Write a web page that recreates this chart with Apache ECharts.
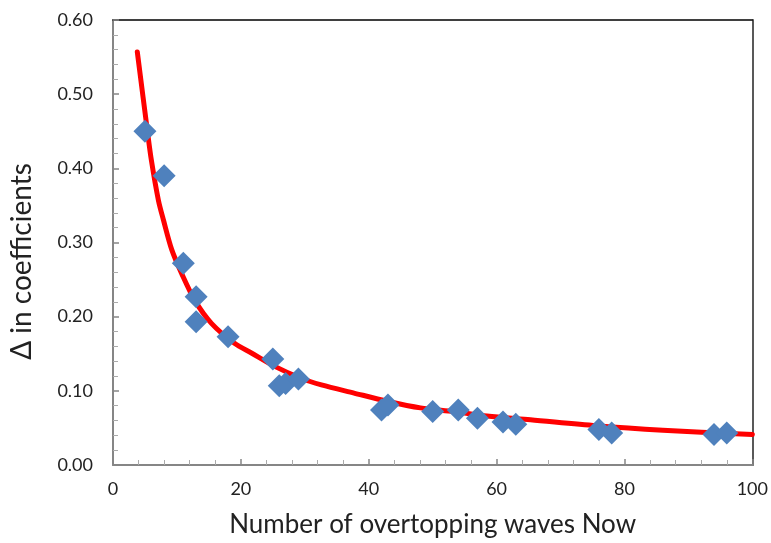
<!DOCTYPE html>
<html>
<head>
<meta charset="utf-8">
<script src="https://cdn.jsdelivr.net/npm/echarts@6/dist/echarts.min.js"></script>
<style>
  html, body { margin: 0; padding: 0; background: #fff; }
  #chart { width: 771px; height: 543px; }
</style>
</head>
<body>
<div id="chart"></div>
<script>
// Measured overtopping-wave counts and coefficient differences
const waveCounts = [5, 8, 11, 13, 13, 18, 25, 26, 27, 29, 42, 43, 50, 54, 57, 61, 63, 76, 78, 94, 96];
const coeffDelta = [0.450, 0.390, 0.272, 0.227, 0.193, 0.173, 0.143, 0.107, 0.110, 0.116,
                    0.074, 0.081, 0.072, 0.074, 0.063, 0.058, 0.055, 0.048, 0.043, 0.041, 0.043];

// Fitted trend line
const fitX = [3.8, 5.4, 6.0, 7.1, 7.9, 9.2, 10.75, 12.8, 15.4, 19.0, 21.65, 25.3, 29.4, 32.6, 37.7, 42.9, 48.1, 53.3, 58.5, 65.3, 75.6, 86.0, 100];
const fitY = [0.557, 0.449, 0.411, 0.357, 0.330, 0.290, 0.258, 0.222, 0.191, 0.164, 0.151, 0.133, 0.117, 0.108, 0.097, 0.086, 0.077, 0.072, 0.066, 0.061, 0.053, 0.047, 0.041];

const xTicks = [0, 20, 40, 60, 80, 100];
const yTicks = [0.0, 0.1, 0.2, 0.3, 0.4, 0.5, 0.6];

const points = waveCounts.map((x, i) => [x, coeffDelta[i]]);
const fitLine = fitX.map((x, i) => [x, fitY[i]]);

const FONT = 'Lato';
const axisGray = '#868686';

const chart = echarts.init(document.getElementById('chart'), null, { renderer: 'canvas' });
chart.setOption({
  animation: false,
  backgroundColor: '#ffffff',
  grid: { left: 111, right: 18, top: 20, bottom: 78, containLabel: false },
  xAxis: [
    {
      type: 'value',
      position: 'bottom',
      min: xTicks[0], max: xTicks[xTicks.length - 1], interval: 20,
      name: 'Number of overtopping waves Now',
      nameLocation: 'middle', nameGap: 47,
      nameTextStyle: { fontFamily: FONT, fontSize: 26, color: '#222' },
      axisLine: { show: true, lineStyle: { color: axisGray, width: 2 } },
      axisTick: { show: true, inside: true, length: 6, lineStyle: { color: axisGray, width: 1.5 } },
      minorTick: { show: true, splitNumber: 5, length: 5, lineStyle: { color: '#aaa', width: 1 } },
      axisLabel: { fontFamily: FONT, fontSize: 18, color: '#222', margin: 15 },
      splitLine: { show: false }
    },
    {
      type: 'value',
      position: 'top',
      min: xTicks[0], max: xTicks[xTicks.length - 1],
      axisLine: { show: true, onZero: false, lineStyle: { color: '#000', width: 1.5 } },
      axisTick: { show: false }, axisLabel: { show: false }, splitLine: { show: false }
    }
  ],
  yAxis: [
    {
      type: 'value',
      position: 'left',
      min: yTicks[0], max: yTicks[yTicks.length - 1], interval: 0.1,
      name: 'Δ in coefficients',
      nameLocation: 'middle', nameGap: 77, nameRotate: 90,
      nameTextStyle: { fontFamily: FONT, fontSize: 28, color: '#222', padding: [0, 38, 0, 0] },
      axisLine: { show: true, lineStyle: { color: axisGray, width: 2 } },
      axisTick: { show: true, inside: true, length: 6, lineStyle: { color: axisGray, width: 1.5 } },
      minorTick: { show: true, splitNumber: 5, length: 5, lineStyle: { color: '#aaa', width: 1 } },
      axisLabel: { fontFamily: FONT, fontSize: 18, color: '#222', margin: 20,
                   formatter: v => v.toFixed(2) },
      splitLine: { show: false }
    },
    {
      type: 'value',
      position: 'right',
      min: yTicks[0], max: yTicks[yTicks.length - 1],
      axisLine: { show: true, onZero: false, lineStyle: { color: '#595959', width: 2 } },
      axisTick: { show: false }, axisLabel: { show: false }, splitLine: { show: false }
    }
  ],
  series: [
    {
      name: 'fit',
      type: 'line',
      data: fitLine,
      smooth: 0.3,
      showSymbol: false,
      lineStyle: { color: '#ff0000', width: 5, cap: 'round', join: 'round' },
      z: 2
    },
    {
      name: 'measured',
      type: 'scatter',
      data: points,
      symbol: 'diamond',
      symbolSize: 23,
      itemStyle: { color: '#4f81bd', opacity: 1 },
      z: 3
    }
  ]
});
</script>
</body>
</html>
